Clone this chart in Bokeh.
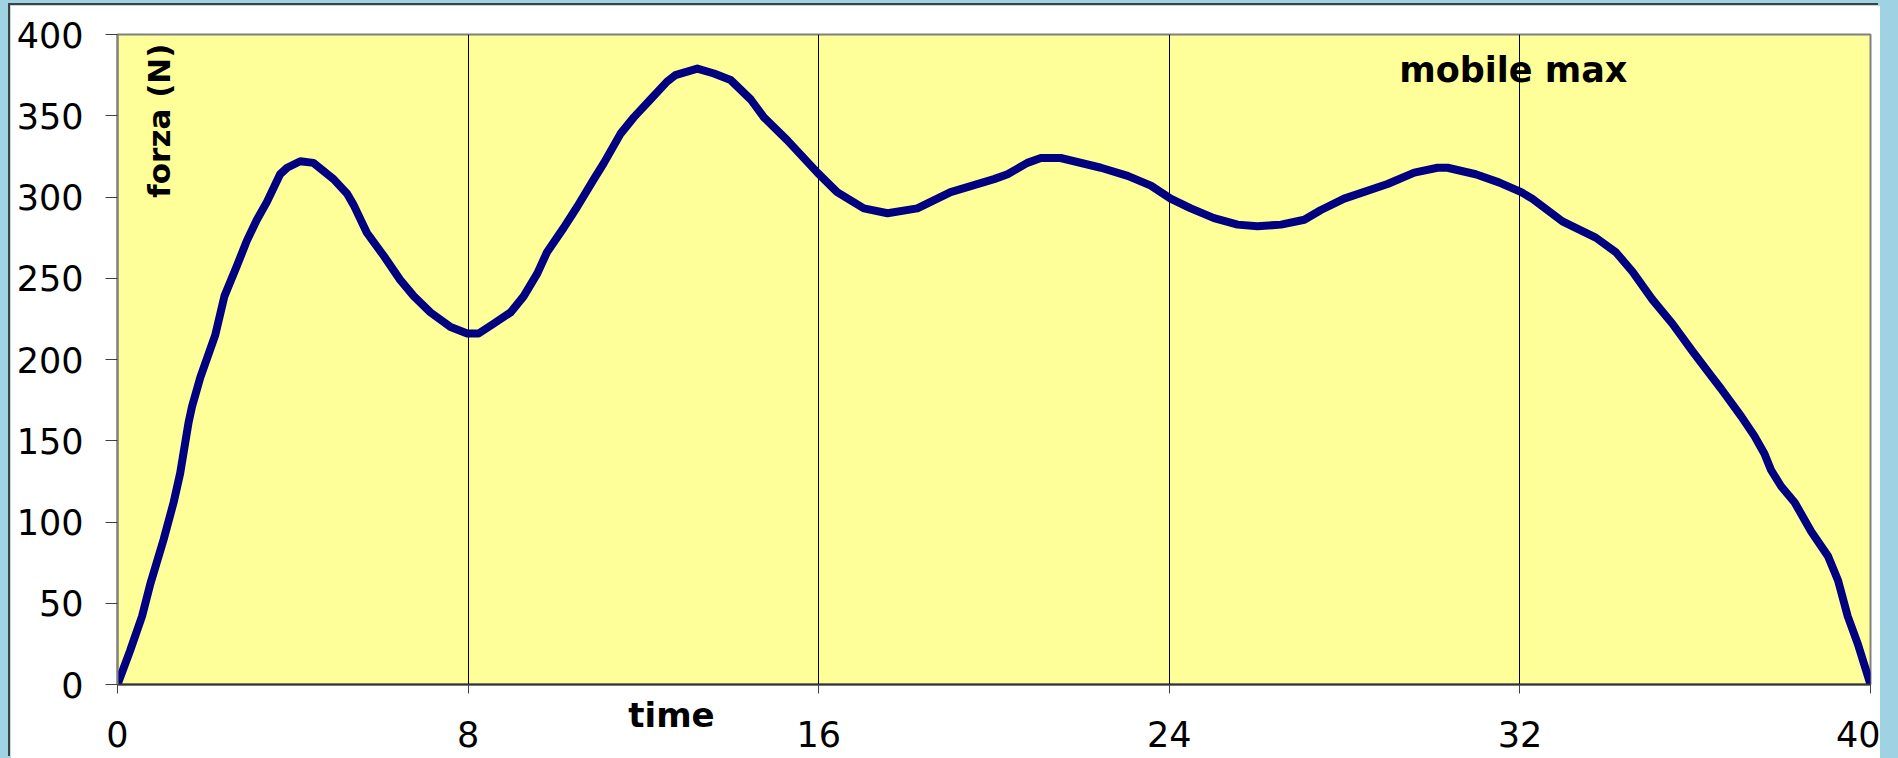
import math
from bokeh.plotting import figure
from bokeh.layouts import column
from bokeh.models import Range1d, FixedTicker, Label, LinearAxis
from bokeh.embed import file_html
from bokeh.resources import INLINE

# ---- data ----
time_s = [0, 0.29, 0.56, 0.75, 1.05, 1.28, 1.43, 1.62, 1.7, 1.89, 2.23, 2.44, 2.73,
          2.95, 3.18, 3.41, 3.71, 3.87, 4.17, 4.47, 4.93, 5.24, 5.39, 5.69, 6.07,
          6.45, 6.76, 7.14, 7.6, 7.98, 8.24, 8.58, 8.97, 9.27, 9.58, 9.8, 10.18,
          10.49, 10.87, 11.1, 11.48, 11.78, 12.16, 12.54, 12.73, 13.23, 13.61,
          13.99, 14.45, 14.75, 15.28, 15.97, 16.42, 17.03, 17.57, 18.25, 19.01,
          20.0, 20.31, 20.76, 21.07, 21.52, 22.44, 23.05, 23.58, 24.03, 24.49,
          25.02, 25.56, 26.01, 26.55, 27.08, 27.46, 27.99, 28.98, 29.59, 30.12,
          30.35, 30.99, 31.52, 32.03, 32.28, 32.97, 33.73, 34.19, 34.57, 35.02,
          35.48, 35.94, 36.39, 36.59, 37.05, 37.35, 37.58, 37.73, 37.96, 38.27,
          38.65, 39.03, 39.26, 39.48, 39.71, 40.0]
forza_N = [0, 21, 42, 62, 89, 112, 130, 161, 171, 189, 215, 239, 258,
           273, 286, 297, 314, 318, 322, 321, 311, 302, 295, 278, 264,
           249, 239, 229, 220, 216, 216, 222, 229, 239, 253, 266, 281,
           294, 311, 321, 339, 349, 360, 371, 375, 379, 376,
           372, 360, 349, 335, 315, 303, 293, 290, 293, 303,
           311, 314, 321, 324, 324, 318, 313, 307, 299, 293,
           287, 283, 282, 283, 286, 292, 299, 308, 315, 318,
           318, 314, 309, 303, 299, 285, 275, 266, 254, 237,
           222, 205, 189, 182, 165, 153, 142, 132, 122, 112,
           94, 79, 64, 42, 25, 0]

x_ticks = [0, 8, 16, 24, 32, 40]
y_ticks = [0, 50, 100, 150, 200, 250, 300, 350, 400]

title_text = "mobile max"
x_label = "time"
x_label_pos = 12.64
y_label = "forza (N)"

FONT = "DejaVu Sans"

fig = figure(width=1870, height=753, output_backend="svg", toolbar_location=None,
             x_range=Range1d(0, 40), y_range=Range1d(0, 400),
             min_border_left=107, min_border_right=10, min_border_top=29,
             min_border_bottom=74, margin=(5, 18, 0, 10),
             styles={"box-shadow": "-2px -2px 0 #404040"})

fig.background_fill_color = "#FFFF99"
fig.border_fill_color = "white"
fig.outline_line_color = "#808080"
fig.outline_line_width = 2

fig.line(time_s, forza_N, line_color="#000080", line_width=8, line_join="round")

# axes
fig.xaxis.ticker = FixedTicker(ticks=x_ticks)
fig.yaxis.ticker = FixedTicker(ticks=y_ticks)
for ax in (fig.xaxis, fig.yaxis):
    ax.minor_tick_line_color = None
    ax.major_tick_in = 0
    ax.major_label_text_font = FONT
    ax.major_label_text_font_size = "35px"
    ax.major_label_text_color = "black"
    ax.major_label_text_font_style = "normal"

fig.yaxis.axis_line_color = "#808080"
fig.yaxis.axis_line_width = 2
fig.yaxis.major_tick_line_color = "#404040"
fig.yaxis.major_tick_out = 12
fig.yaxis.major_label_standoff = 22

fig.xaxis.axis_line_color = "#333333"
fig.xaxis.axis_line_width = 2
fig.xaxis.major_tick_line_color = "#404040"
fig.xaxis.major_tick_out = 9
fig.xaxis.major_label_standoff = 27

# secondary axis whose single tick label is the "time" caption
time_axis = LinearAxis(axis_line_color=None, major_tick_line_color=None,
                       minor_tick_line_color=None, major_tick_out=0, major_tick_in=0,
                       major_label_text_font=FONT, major_label_text_font_size="34px",
                       major_label_text_font_style="bold",
                       major_label_text_color="black",
                       major_label_standoff=-55,
                       major_label_overrides={x_label_pos: x_label})
time_axis.ticker = FixedTicker(ticks=[x_label_pos])
fig.add_layout(time_axis, "below")

# grid
fig.ygrid.grid_line_color = None
fig.xgrid.ticker = FixedTicker(ticks=x_ticks[1:-1])
fig.xgrid.grid_line_color = "black"
fig.xgrid.grid_line_width = 1

# texts
fig.add_layout(Label(x=31.85, y=378, text=title_text, text_font=FONT,
                     text_font_size="35px", text_font_style="bold",
                     text_align="center", text_baseline="middle", text_color="black"))
fig.add_layout(Label(x=0.95, y=347, text=y_label, angle=math.pi / 2, text_font=FONT,
                     text_font_size="31px", text_font_style="bold",
                     text_align="center", text_baseline="middle", text_color="black"))

p = column(fig, styles={"background-color": "#9fd2e2"})

open("out.html", "w").write(file_html(p, INLINE))
